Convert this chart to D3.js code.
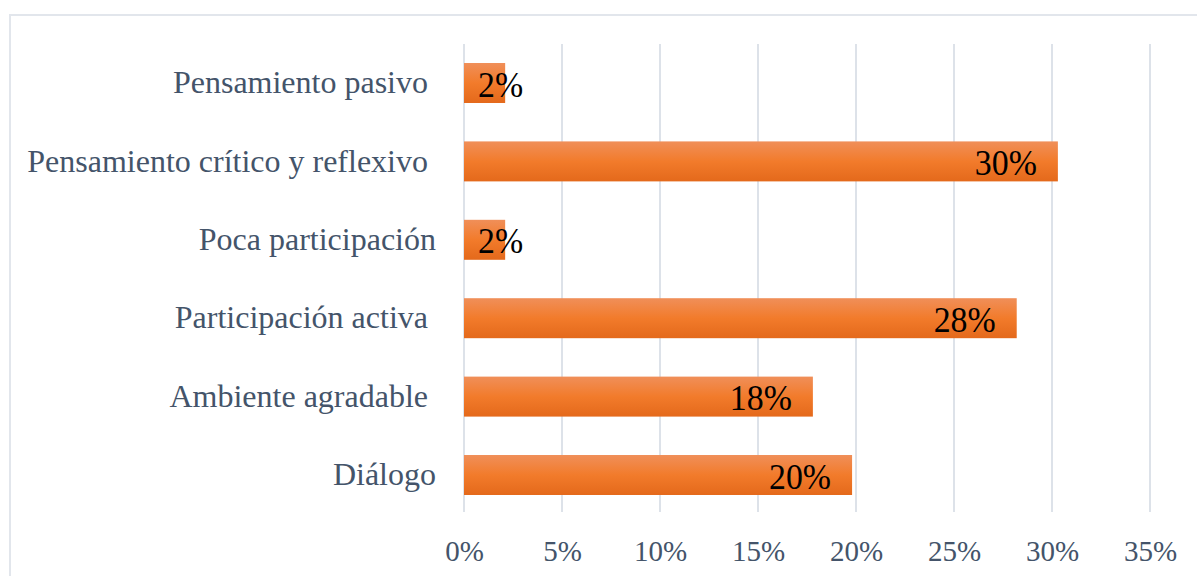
<!DOCTYPE html>
<html>
<head>
<meta charset="utf-8">
<script src="https://cdn.jsdelivr.net/npm/d3@7"></script>
<style>
  html, body { margin: 0; padding: 0; background: #fff; }
  svg { display: block; }
  text { font-family: "Liberation Serif", "Times New Roman", serif; }
</style>
</head>
<body>
<svg id="chart" width="1197" height="576"></svg>
<script>
// ---- data ----
const categories = [
  "Pensamiento pasivo ",
  "Pensamiento crítico y reflexivo ",
  "Poca participación",
  "Participación activa ",
  "Ambiente agradable ",
  "Diálogo"
];
const values = [2.1, 30.3, 2.1, 28.2, 17.8, 19.8];   // percent
const tickValues = [0, 5, 10, 15, 20, 25, 30, 35];

// ---- layout ----
const W = 1197, H = 576;
const plot = { left: 464, right: 1150, top: 44, bottom: 512 };

const svg = d3.select("#chart");

// gradient
const defs = svg.append("defs");
const grad = defs.append("linearGradient").attr("id", "barGrad")
  .attr("x1", 0).attr("y1", 0).attr("x2", 0).attr("y2", 1);
grad.append("stop").attr("offset", "0%").attr("stop-color", "#F08F59");
grad.append("stop").attr("offset", "50%").attr("stop-color", "#F27B2B");
grad.append("stop").attr("offset", "100%").attr("stop-color", "#E4691B");

// chart border
svg.append("rect")
  .attr("x", 10).attr("y", 15)
  .attr("width", W + 20).attr("height", H + 20)
  .attr("fill", "none").attr("stroke", "#E2E6EC").attr("stroke-width", 2);

const x = d3.scaleLinear().domain([0, 35]).range([plot.left, plot.right]);
const y = d3.scaleBand().domain(categories)
  .range([43.8, 514.2]).paddingInner(0.49).paddingOuter(0.245);

// gridlines
svg.append("g").selectAll("line").data(tickValues).join("line")
  .attr("x1", d => x(d)).attr("x2", d => x(d))
  .attr("y1", plot.top).attr("y2", plot.bottom)
  .attr("stroke", "#DDE2E9").attr("stroke-width", 2);

// x axis tick labels
const xAxis = d3.axisBottom(x).tickValues(tickValues)
  .tickFormat(d => d + "%").tickSize(0).tickPadding(0);
const gx = svg.append("g").attr("transform", `translate(0,${plot.bottom})`).call(xAxis);
gx.select(".domain").remove();
gx.selectAll("text")
  .attr("y", 0).attr("dy", null)
  .attr("transform", "translate(0,49)")
  .attr("font-size", 29).attr("fill", "#44546A")
  .attr("font-family", "Liberation Serif, serif");

// y axis category labels
const yAxis = d3.axisLeft(y).tickSize(0).tickPadding(0);
const gy = svg.append("g").attr("transform", `translate(436,0)`).call(yAxis);
gy.select(".domain").remove();
gy.selectAll("text")
  .attr("dy", "0.32em")
  .style("white-space", "pre")
  .attr("font-size", 32).attr("fill", "#44546A")
  .attr("font-family", "Liberation Serif, serif");

// bars
svg.append("g").selectAll("rect").data(categories).join("rect")
  .attr("x", x(0))
  .attr("y", d => y(d))
  .attr("width", (d, i) => x(values[i]) - x(0))
  .attr("height", y.bandwidth())
  .attr("fill", "url(#barGrad)");

// data labels (slightly condensed, as in the reference)
const sx = 0.94;
const labels = svg.append("g").selectAll("text").data(categories).join("text")
  .attr("x", 0).attr("y", 0)
  .attr("dy", "0.38em")
  .attr("font-size", 36).attr("fill", "#000")
  .text((d, i) => Math.round(values[i]) + "%");
labels.each(function(d, i) {
  const w = this.getComputedTextLength() * sx;
  const end = x(values[i]) - 21;
  const minStart = x(0) + 14;
  const start = Math.max(end - w, minStart);
  const cy = y(d) + y.bandwidth() / 2;
  d3.select(this).attr("transform", `translate(${start},${cy}) scale(${sx},1)`);
});
</script>
</body>
</html>
